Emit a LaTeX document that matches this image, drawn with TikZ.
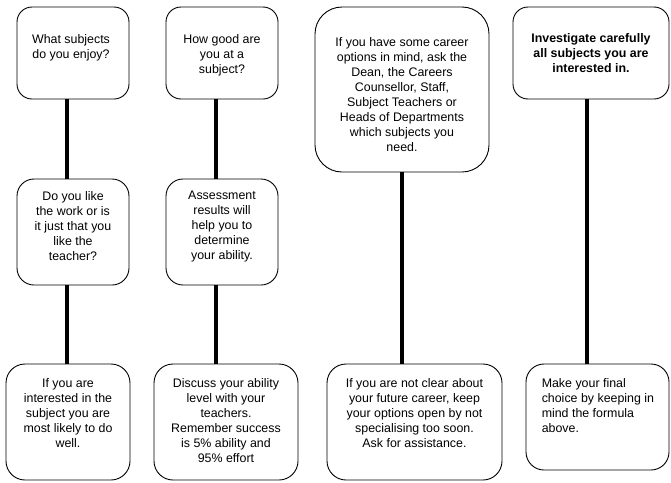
\documentclass[tikz,border=0pt]{standalone}
\usepackage{fontspec}
\setmainfont{Liberation Sans}
\usetikzlibrary{positioning}

\begin{document}
\begin{tikzpicture}[
  x=1pt, y=-1pt,
  card/.style={draw, fill=white, line width=0.9pt, inner sep=0pt},
  words/.style={align=center, inner sep=0pt, font=\fontsize{12.4}{15}\selectfont, execute at begin node=\strut},
  link/.style={line width=4pt}
]
\useasboundingbox (0,0) rectangle (671,482);

% Top row
\node[card, minimum width=112pt, minimum height=92pt, rounded corners=15pt] (enjoy) at (73,53) {};
\node[card, minimum width=112pt, minimum height=92pt, rounded corners=15pt] (good) at (222,53) {};
\node[card, minimum width=174pt, minimum height=165pt, rounded corners=27pt] (career) at (402,89.5) {};
\node[card, minimum width=156pt, minimum height=92pt, rounded corners=15pt] (investigate) at (591,53) {};

% Middle row
\node[card, minimum width=112pt, minimum height=106pt, rounded corners=17pt] (work) at (73,232) {};
\node[card, minimum width=112pt, minimum height=106pt, rounded corners=17pt] (assess) at (222,232) {};

% Bottom row
\node[card, minimum width=124pt, minimum height=116pt, rounded corners=19pt] (interest) at (68,422) {};
\node[card, minimum width=144pt, minimum height=116pt, rounded corners=19pt] (discuss) at (226,422) {};
\node[card, minimum width=175pt, minimum height=116pt, rounded corners=19pt] (unclear) at (414.5,422) {};
\node[card, minimum width=143pt, minimum height=106pt, rounded corners=18pt] (final) at (597.5,417) {};

% Texts
\node[words, below=28pt of enjoy.north, xshift=-2pt] (enjoyT) {What subjects\\do you enjoy?};
\node[words, below=28pt of good.north] (goodT) {How good are\\you at a\\subject?};
\node[words, below=31pt of career.north] (careerT) {If you have some career\\options in mind, ask the\\Dean, the Careers\\Counsellor, Staff,\\Subject Teachers or\\Heads of Departments\\which subjects you\\need.};
\node[words, below=27pt of investigate.north, font=\fontsize{12.4}{15}\selectfont\bfseries] (investigateT) {Investigate carefully\\all subjects you are\\interested in.};
\node[words, below=12.5pt of work.north] (workT) {Do you like\\the work or is\\it just that you\\like the\\teacher?};
\node[words, below=12.5pt of assess.north] (assessT) {Assessment\\results will\\help you to\\determine\\your ability.};
\node[words, below=14.5pt of interest.north] (interestT) {If you are\\interested in the\\subject you are\\most likely to do\\well.};
\node[words, below=14.5pt of discuss.north] (discussT) {Discuss your ability\\level with your\\teachers.\\Remember success\\is 5\% ability and\\95\% effort};
\node[words, below=14.5pt of unclear.north] (unclearT) {If you are not clear about\\your future career, keep\\your options open by not\\specialising too soon.\\Ask for assistance.};
\node[words, align=left, anchor=north west] (finalT) at ([xshift=16pt, yshift=-14.5pt]final.north west) {Make your final\\choice by keeping in\\mind the formula\\above.};

% Connectors
\draw[link] ([xshift=-6pt]enjoy.south) -- ([xshift=-6pt]work.north);
\draw[link] ([xshift=-6pt]work.south) -- ([xshift=-6pt]work.south |- interest.north);
\draw[link] ([xshift=-6pt]good.south) -- ([xshift=-6pt]assess.north);
\draw[link] ([xshift=-6pt]assess.south) -- ([xshift=-6pt]assess.south |- discuss.north);
\draw[link] (career.south) -- (career.south |- unclear.north);
\draw[link] ([xshift=-4pt]investigate.south) -- ([xshift=-4pt]investigate.south |- final.north);
\end{tikzpicture}
\end{document}
